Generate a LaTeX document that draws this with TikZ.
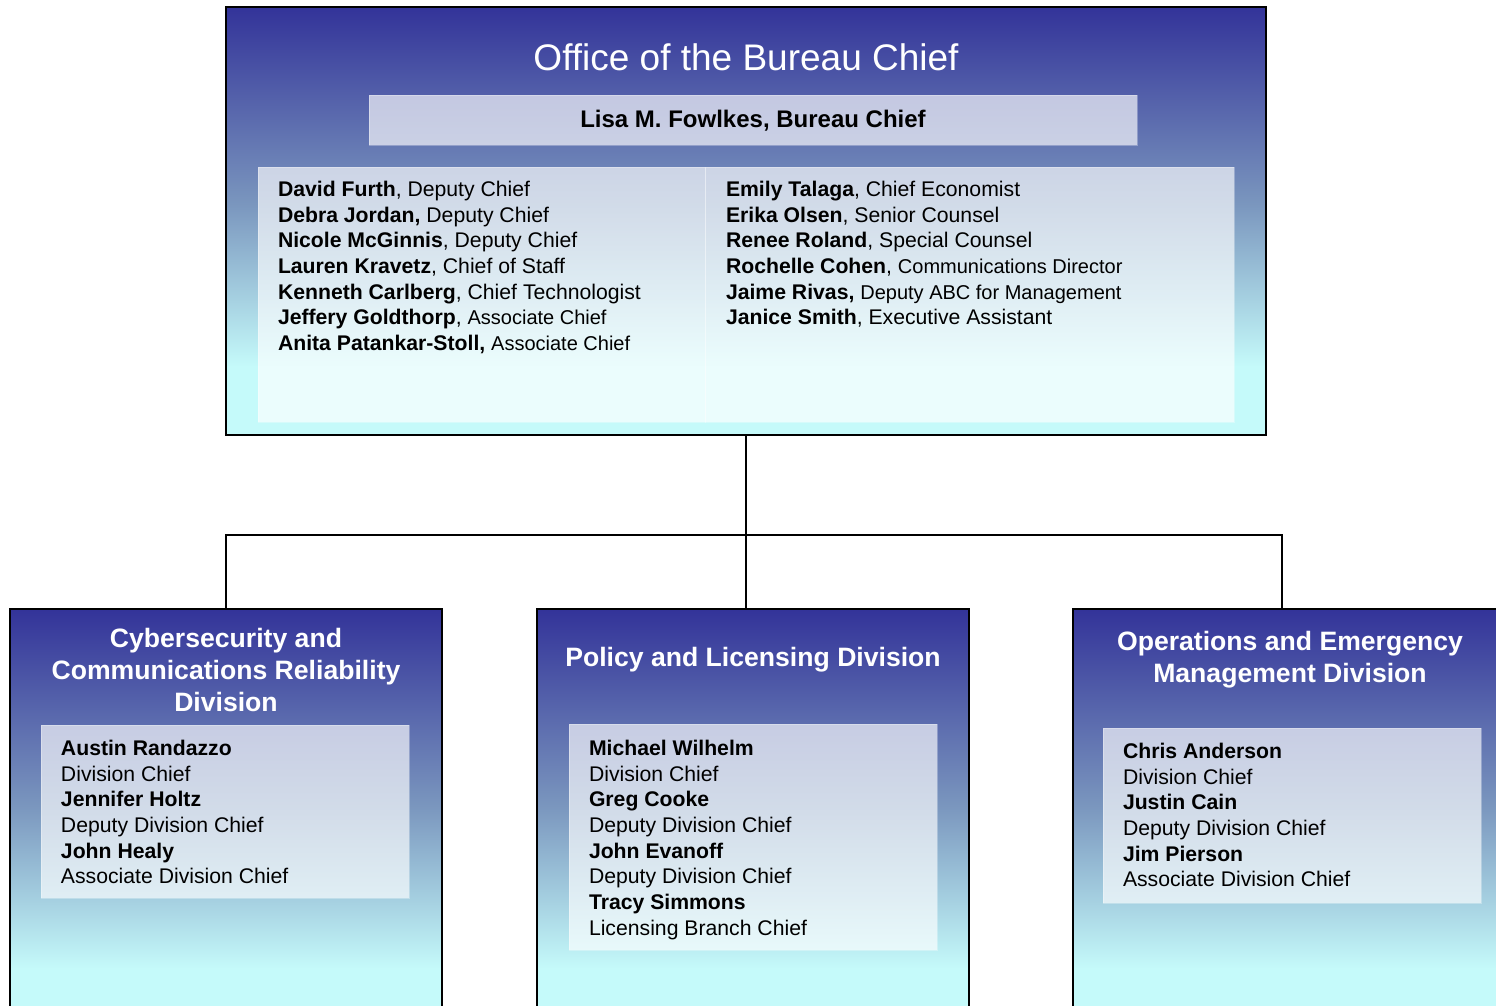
\documentclass[tikz,border=0pt]{standalone}
\usepackage{fontspec}
\setmainfont{Liberation Sans}
\usetikzlibrary{calc}

\definecolor{deepBlue}{RGB}{51,51,153}
\definecolor{midBlue}{RGB}{122,150,190}
\definecolor{paleCyan}{RGB}{197,250,250}
\pgfdeclareverticalshading{boxgrad}{100bp}{color(0bp)=(paleCyan); color(33bp)=(paleCyan);
  color(52bp)=(midBlue); color(75bp)=(deepBlue); color(100bp)=(deepBlue)}

\newcommand{\subrole}[1]{{\fontsize{10}{12.85}\selectfont #1}}

\begin{document}
\begin{tikzpicture}[x=0.5pt, y=-0.5pt,
    every node/.style = {inner sep=0pt, outer sep=0pt},
    unit/.style = {draw, line width=1pt, shade, shading=boxgrad},
    panel/.style = {fill=white, fill opacity=0.66, draw=white, draw opacity=0.3, line width=0.4pt},
    heading/.style = {text=white, align=center, font=\bfseries\fontsize{13.3}{16}\selectfont},
    roster/.style = {anchor=north west, align=left, font=\fontsize{10.6}{12.85}\selectfont},
    link/.style = {draw, line width=1.2pt}]
  \path[use as bounding box, clip] (0,0) rectangle (1496,1006);

  % office of the bureau chief
  \node[unit, minimum width=520pt, minimum height=214pt] (office) at (746,221) {};
  \node[text=white, font=\fontsize{18.5}{22}\selectfont] (officetitle) at (746,57) {Office of the Bureau Chief};
  \node[panel, minimum width=384pt, minimum height=25pt] (chiefbar) at (753,120) {};
  \node[font=\bfseries\fontsize{12}{14}\selectfont] (chief) at (753,121) {Lisa M. Fowlkes, Bureau Chief};
  \node[panel, minimum width=223.5pt, minimum height=127.5pt] (staffleft) at (481.5,294.5) {};
  \node[panel, minimum width=264.5pt, minimum height=127.5pt] (staffright) at (969.5,294.5) {};
  \node[roster] (leftnames) at (278,181) {%
    \textbf{David Furth}, Deputy Chief\\
    \textbf{Debra Jordan,} Deputy Chief\\
    \textbf{Nicole McGinnis}, Deputy Chief\\
    \textbf{Lauren Kravetz}, Chief of Staff\\
    \textbf{Kenneth Carlberg}, Chief Technologist\\
    \textbf{Jeffery Goldthorp}, \subrole{Associate Chief}\\
    \textbf{Anita Patankar-Stoll,} \subrole{Associate Chief}};
  \node[roster] (rightnames) at (726,181) {%
    \textbf{Emily Talaga}, Chief Economist\\
    \textbf{Erika Olsen}, Senior Counsel\\
    \textbf{Renee Roland}, Special Counsel\\
    \textbf{Rochelle Cohen}, \subrole{Communications Director}\\
    \textbf{Jaime Rivas,} \subrole{Deputy ABC for Management}\\
    \textbf{Janice Smith}, Executive Assistant};

  % divisions
  \node[unit, minimum width=216pt, minimum height=214pt] (cyber) at (226,823) {};
  \node[unit, minimum width=216pt, minimum height=214pt] (policy) at (753,823) {};
  \node[unit, minimum width=216pt, minimum height=214pt] (oper) at (1289,823) {};

  \node[heading] (cybertitle) at (226,670) {Cybersecurity and\\Communications Reliability\\Division};
  \node[heading] (policytitle) at (753,660) {Policy and Licensing Division};
  \node[heading] (opertitle) at (1290,660) {Operations and Emergency\\Management Division};

  \node[panel, minimum width=184pt, minimum height=86.5pt] (cyberpanel) at (225,811.5) {};
  \node[panel, minimum width=184pt, minimum height=113pt] (policypanel) at (753,837) {};
  \node[panel, minimum width=189pt, minimum height=87.5pt] (operpanel) at (1292,815.5) {};

  \node[roster] (cyberstaff) at (61,740) {%
    \textbf{Austin Randazzo}\\ Division Chief\\
    \textbf{Jennifer Holtz}\\ Deputy Division Chief\\
    \textbf{John Healy}\\ Associate Division Chief};
  \node[roster] (policystaff) at (589,740) {%
    \textbf{Michael Wilhelm}\\ Division Chief\\
    \textbf{Greg Cooke}\\ Deputy Division Chief\\
    \textbf{John Evanoff}\\ Deputy Division Chief\\
    \textbf{Tracy Simmons}\\ Licensing Branch Chief};
  \node[roster] (operstaff) at (1123,743) {%
    \textbf{Chris Anderson}\\ Division Chief\\
    \textbf{Justin Cain}\\ Deputy Division Chief\\
    \textbf{Jim Pierson}\\ Associate Division Chief};

  % connectors
  \coordinate (hub) at (746,535);
  \draw[link] (office.south) -- (office.south |- policy.north);
  \draw[link] (cyber.north) |- (hub) -| ([xshift=-3.5pt]oper.north);
\end{tikzpicture}
\end{document}
